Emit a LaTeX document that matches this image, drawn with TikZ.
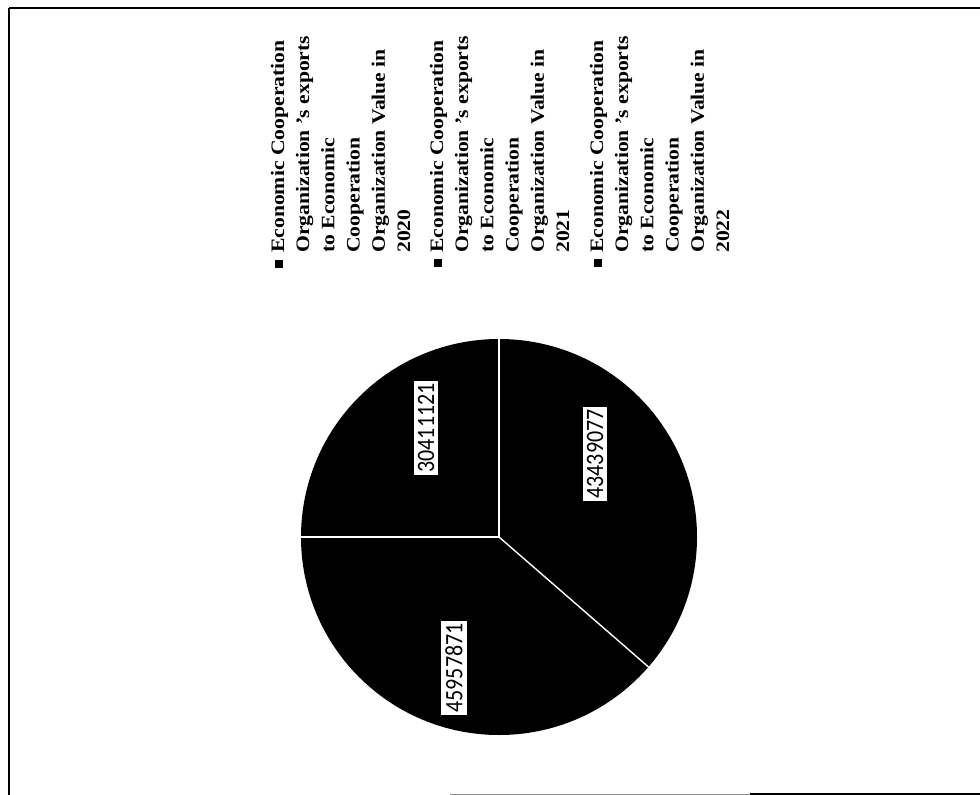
\documentclass[tikz,border=0pt]{standalone}
\usepackage{fontspec}
\setmainfont{Liberation Serif}
\newfontfamily\lblfont{Carlito}
\begin{document}
\begin{tikzpicture}[x=1pt,y=-1pt,
  leg/.style={rotate=90, anchor=base west, inner sep=0pt, font=\fontsize{19}{21}\selectfont\bfseries},
  legbullet/.style={fill=black, draw=none, minimum size=8pt, inner sep=0pt},
  vlabel/.style={rotate=90, fill=white, draw=none, inner xsep=2.5pt, inner ysep=4pt, font=\fontsize{25}{27}\selectfont\lblfont},
  sep/.style={white, line width=1.4pt}]
\useasboundingbox (0,0) rectangle (980,795);
% frame
\draw[line width=2pt] (9,8) -- (980,8);
\draw[line width=2pt] (9,8) -- (9,795);
\draw[line width=0.8pt, black!45] (450,794) -- (750,794);
\draw[line width=1.5pt] (750,794) -- (980,794);
% pie
\coordinate (c) at (499,537);
\fill[black] (c) circle (198);
\draw[sep] (c) -- ++(270:198) coordinate (pu);
\draw[sep] (c) -- ++(180:198) coordinate (pl);
\draw[sep] (c) -- ++(41:198) coordinate (pr);
\node[vlabel] (v1) at (426,428) {\scalebox{0.88}[1]{30411121}};
\node[vlabel] (v2) at (595,454) {\scalebox{0.88}[1]{43439077}};
\node[vlabel] (v3) at (454,668) {\scalebox{0.88}[1]{45957871}};
% legend entry 1
\node[legbullet] (b1) at (279,264) {};
\node[leg] (a1) at (284,253) {\scalebox{1.14}[1]{Economic Cooperation}};
\node[leg] (a2) at (309.2,253) {\scalebox{1.14}[1]{Organization 's exports}};
\node[leg] (a3) at (334.4,253) {\scalebox{1.14}[1]{to Economic}};
\node[leg] (a4) at (359.6,253) {\scalebox{1.14}[1]{Cooperation}};
\node[leg] (a5) at (384.8,253) {\scalebox{1.14}[1]{Organization Value in}};
\node[leg] (a6) at (410,253) {\scalebox{1.14}[1]{2020}};
% legend entry 2
\node[legbullet] (b2) at (438,263) {};
\node[leg] (c1) at (443,253) {\scalebox{1.14}[1]{Economic Cooperation}};
\node[leg] (c2) at (468.2,253) {\scalebox{1.14}[1]{Organization 's exports}};
\node[leg] (c3) at (493.4,253) {\scalebox{1.14}[1]{to Economic}};
\node[leg] (c4) at (518.6,253) {\scalebox{1.14}[1]{Cooperation}};
\node[leg] (c5) at (543.8,253) {\scalebox{1.14}[1]{Organization Value in}};
\node[leg] (c6) at (569,253) {\scalebox{1.14}[1]{2021}};
% legend entry 3
\node[legbullet] (b3) at (598,263) {};
\node[leg] (d1) at (603,253) {\scalebox{1.14}[1]{Economic Cooperation}};
\node[leg] (d2) at (628.2,253) {\scalebox{1.14}[1]{Organization 's exports}};
\node[leg] (d3) at (653.4,253) {\scalebox{1.14}[1]{to Economic}};
\node[leg] (d4) at (678.6,253) {\scalebox{1.14}[1]{Cooperation}};
\node[leg] (d5) at (703.8,253) {\scalebox{1.14}[1]{Organization Value in}};
\node[leg] (d6) at (729,253) {\scalebox{1.14}[1]{2022}};
\end{tikzpicture}
\end{document}
